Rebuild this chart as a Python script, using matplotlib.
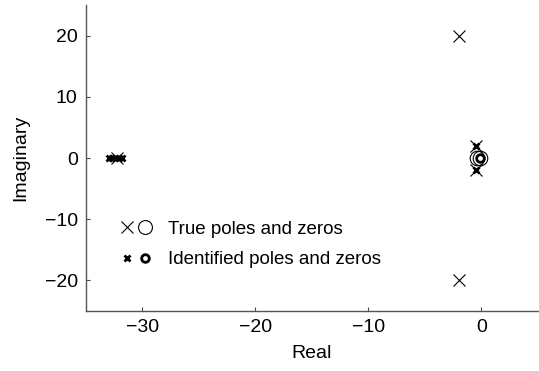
import matplotlib
matplotlib.use("Agg")
import matplotlib.pyplot as plt
from matplotlib.lines import Line2D
from matplotlib.legend_handler import HandlerTuple

plt.rcParams['font.family'] = ['Liberation Sans', 'DejaVu Sans']

# True system poles and zeros (real, imaginary)
true_poles_re = [-2.0, -2.0, -32.3, -0.5, -0.5]
true_poles_im = [20.0, -20.0, 0.0, 2.0, -2.0]
true_zeros_re = [-0.35, -0.15]
true_zeros_im = [0.0, 0.0]

# Identified poles and zeros
id_poles_re = [-0.5, -0.5, -33.0, -32.7, -32.4, -32.1, -31.8]
id_poles_im = [2.0, -2.0, 0.0, 0.0, 0.0, 0.0, 0.0]
id_zeros_re = [-0.1]
id_zeros_im = [0.0]

x_ticks = [-30, -20, -10, 0]
y_ticks = [-20, -10, 0, 10, 20]

fig = plt.figure(figsize=(5.39, 3.71), dpi=100)
ax = fig.add_axes([0.1596, 0.1617, 0.838, 0.8248])

ax.plot(true_poles_re, true_poles_im, linestyle='none', marker='x',
        markersize=9, markeredgewidth=0.8, color='black')
ax.plot(true_zeros_re, true_zeros_im, linestyle='none', marker='o',
        markersize=10.5, markeredgewidth=0.8, markerfacecolor='none', color='black')
ax.plot(id_poles_re, id_poles_im, linestyle='none', marker='x',
        markersize=5, markeredgewidth=2.0, color='black')
ax.plot(id_zeros_re, id_zeros_im, linestyle='none', marker='o',
        markersize=5.5, markeredgewidth=2.0, markerfacecolor='none', color='black')

ax.set_xlim(-35, 5)
ax.set_ylim(-25, 25)
ax.set_xticks(x_ticks)
ax.set_yticks(y_ticks)
ax.set_xticklabels([str(t).replace('-', '\u2212') for t in x_ticks])
ax.set_yticklabels([str(t).replace('-', '\u2212') for t in y_ticks])
ax.tick_params(direction='in', length=3, width=0.8, labelsize=14, color='#444444', pad=6)
for side in ('top', 'right'):
    ax.spines[side].set_visible(False)
for side in ('left', 'bottom'):
    ax.spines[side].set_color('#555555')
    ax.spines[side].set_linewidth(1.0)

ax.set_xlabel('Real', fontsize=14, labelpad=6)
ax.set_ylabel('Imaginary', fontsize=14, labelpad=11)

h_tp = Line2D([], [], linestyle='none', marker='x', markersize=9,
              markeredgewidth=0.8, color='black')
h_tz = Line2D([], [], linestyle='none', marker='o', markersize=10,
              markeredgewidth=0.8, markerfacecolor='none', color='black')
h_ip = Line2D([], [], linestyle='none', marker='x', markersize=5,
              markeredgewidth=2.0, color='black')
h_iz = Line2D([], [], linestyle='none', marker='o', markersize=5.5,
              markeredgewidth=2.0, markerfacecolor='none', color='black')

ax.legend([(h_tp, h_tz), (h_ip, h_iz)],
          ['True poles and zeros', 'Identified poles and zeros'],
          handler_map={tuple: HandlerTuple(ndivide=None, pad=0.3)},
          loc='lower left', bbox_to_anchor=(0.04, 0.085), frameon=False,
          fontsize=13.5, handlelength=1.6, handletextpad=0.9, labelspacing=0.7)

fig.savefig('out.png', dpi=100)
